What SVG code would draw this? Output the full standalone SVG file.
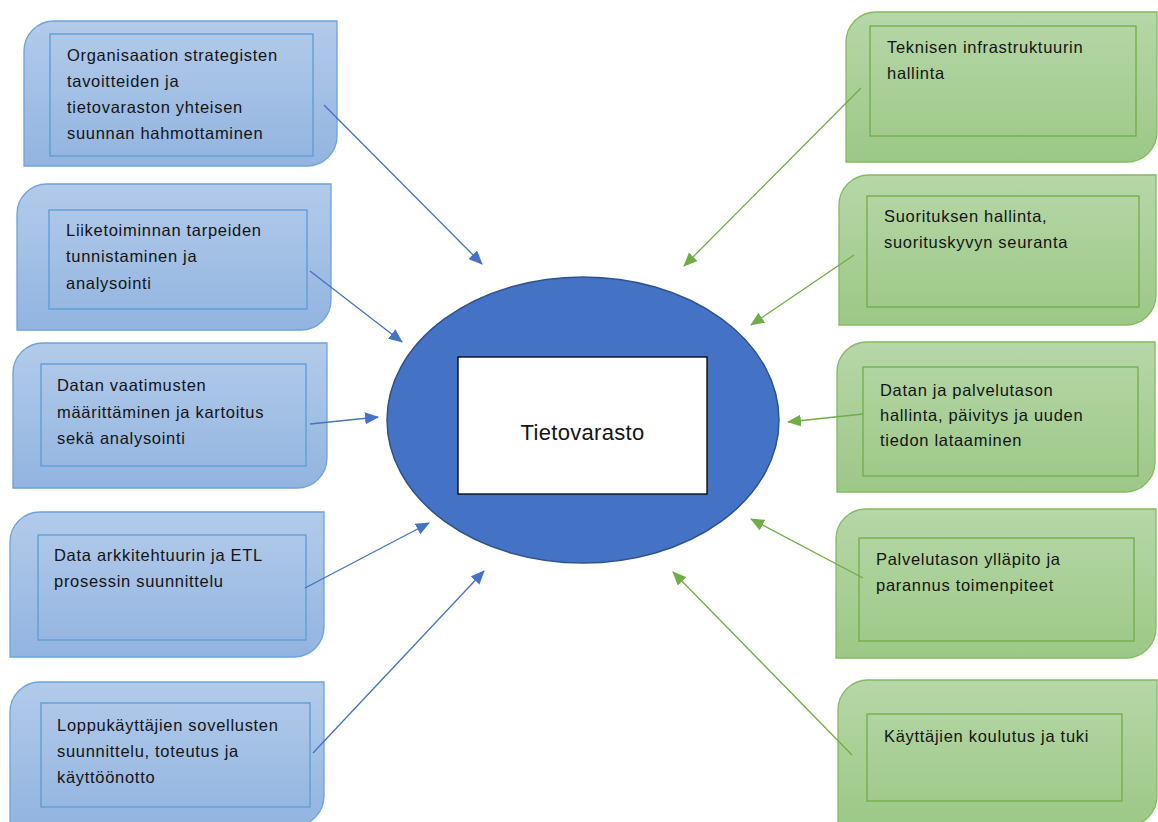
<svg xmlns="http://www.w3.org/2000/svg" width="1158" height="822" viewBox="0 0 1158 822">
<defs>
<linearGradient id="gb" x1="0" y1="0" x2="0" y2="1">
<stop offset="0" stop-color="#b3cbea"/>
<stop offset="1" stop-color="#92b4e0"/>
</linearGradient>
<linearGradient id="gg" x1="0" y1="0" x2="0" y2="1">
<stop offset="0" stop-color="#b6d7a8"/>
<stop offset="1" stop-color="#9cc886"/>
</linearGradient>
<marker id="ab" viewBox="0 0 14 12" refX="13" refY="6" markerWidth="14" markerHeight="12" markerUnits="userSpaceOnUse" orient="auto">
<path d="M0,0 L14,6 L0,12 Z" fill="#4472c4"/>
</marker>
<marker id="ag" viewBox="0 0 14 12" refX="13" refY="6" markerWidth="14" markerHeight="12" markerUnits="userSpaceOnUse" orient="auto">
<path d="M0,0 L14,6 L0,12 Z" fill="#70ad47"/>
</marker>
</defs>
<style>
.ob{fill:url(#gb);stroke:#6ea3dc;stroke-width:1.3}
.ib{fill:none;stroke:#5b9bd5;stroke-width:1.3}
.og{fill:url(#gg);stroke:#84bb60;stroke-width:1.3}
.ig{fill:none;stroke:#70ad47;stroke-width:1.3}
.t{font-family:"Liberation Sans",Arial,sans-serif;font-size:16.5px;fill:#141414;letter-spacing:0.7px}
.cb{stroke:#4472c4;stroke-width:1.3;fill:none;marker-end:url(#ab)}
.cg{stroke:#70ad47;stroke-width:1.3;fill:none;marker-end:url(#ag)}
</style>
<rect width="1158" height="822" fill="#ffffff"/>

<g id="center">
<ellipse cx="583" cy="420" rx="196" ry="143" fill="#4472c4" stroke="#2f528f" stroke-width="1.5"/>
<rect x="458" y="357" width="249" height="137" fill="#ffffff" stroke="#000000" stroke-width="1.3"/>
<text x="582.5" y="440" text-anchor="middle" font-family="'Liberation Sans',Arial,sans-serif" font-size="22px" letter-spacing="0.3" fill="#141414">Tietovarasto</text>
</g>

<g id="b1">
<path class="ob" d="M54,21 H337 V136 A30,30 0 0 1 307,166 H24 V51 A30,30 0 0 1 54,21 Z"/>
<rect class="ib" x="50" y="34" width="263" height="122"/>
<text class="t"><tspan x="67" y="61">Organisaation strategisten</tspan><tspan x="67" y="87">tavoitteiden ja</tspan><tspan x="67" y="113">tietovaraston yhteisen</tspan><tspan x="67" y="139">suunnan hahmottaminen</tspan></text>
</g>

<g id="b2">
<path class="ob" d="M47,184 H331 V300 A30,30 0 0 1 301,330 H17 V214 A30,30 0 0 1 47,184 Z"/>
<rect class="ib" x="49" y="210" width="258" height="99"/>
<text class="t"><tspan x="66" y="236">Liiketoiminnan tarpeiden</tspan><tspan x="66" y="262">tunnistaminen ja</tspan><tspan x="66" y="289">analysointi</tspan></text>
</g>

<g id="b3">
<path class="ob" d="M43,343 H327 V458 A30,30 0 0 1 297,488 H13 V373 A30,30 0 0 1 43,343 Z"/>
<rect class="ib" x="41" y="364" width="265" height="102"/>
<text class="t"><tspan x="57" y="391">Datan vaatimusten</tspan><tspan x="57" y="418">määrittäminen ja kartoitus</tspan><tspan x="57" y="444">sekä analysointi</tspan></text>
</g>

<g id="b4">
<path class="ob" d="M40,512 H324 V627 A30,30 0 0 1 294,657 H10 V542 A30,30 0 0 1 40,512 Z"/>
<rect class="ib" x="38" y="535" width="268" height="105"/>
<text class="t"><tspan x="54" y="561">Data arkkitehtuurin ja ETL</tspan><tspan x="54" y="587">prosessin suunnittelu</tspan></text>
</g>

<g id="b5">
<path class="ob" d="M40,682 H324 V796 A30,30 0 0 1 294,826 H10 V712 A30,30 0 0 1 40,682 Z"/>
<rect class="ib" x="41" y="703" width="269" height="104"/>
<text class="t"><tspan x="57" y="731">Loppukäyttäjien sovellusten</tspan><tspan x="57" y="757">suunnittelu, toteutus ja</tspan><tspan x="57" y="783">käyttöönotto</tspan></text>
</g>

<g id="g1">
<path class="og" d="M876,12 H1157 V132 A30,30 0 0 1 1127,162 H846 V42 A30,30 0 0 1 876,12 Z"/>
<rect class="ig" x="870" y="26" width="266" height="110"/>
<text class="t"><tspan x="887" y="53">Teknisen infrastruktuurin</tspan><tspan x="887" y="79">hallinta</tspan></text>
</g>

<g id="g2">
<path class="og" d="M869,175 H1156 V295 A30,30 0 0 1 1126,325 H839 V205 A30,30 0 0 1 869,175 Z"/>
<rect class="ig" x="867" y="196" width="272" height="111"/>
<text class="t"><tspan x="884" y="222">Suorituksen hallinta,</tspan><tspan x="884" y="248">suorituskyvyn seuranta</tspan></text>
</g>

<g id="g3">
<path class="og" d="M867,342 H1155 V462 A30,30 0 0 1 1125,492 H837 V372 A30,30 0 0 1 867,342 Z"/>
<rect class="ig" x="863" y="367" width="275" height="109"/>
<text class="t"><tspan x="880" y="396">Datan ja palvelutason</tspan><tspan x="880" y="421">hallinta, päivitys ja uuden</tspan><tspan x="880" y="446">tiedon lataaminen</tspan></text>
</g>

<g id="g4">
<path class="og" d="M866,509 H1156 V628 A30,30 0 0 1 1126,658 H836 V539 A30,30 0 0 1 866,509 Z"/>
<rect class="ig" x="859" y="538" width="275" height="103"/>
<text class="t"><tspan x="876" y="565">Palvelutason ylläpito ja</tspan><tspan x="876" y="591">parannus toimenpiteet</tspan></text>
</g>

<g id="g5">
<path class="og" d="M868,680 H1157 V796 A30,30 0 0 1 1127,826 H838 V710 A30,30 0 0 1 868,680 Z"/>
<rect class="ig" x="867" y="714" width="255" height="87"/>
<text class="t"><tspan x="884" y="742">Käyttäjien koulutus ja tuki</tspan></text>
</g>

<g id="connectors">
<line class="cb" x1="324" y1="105" x2="482" y2="264"/>
<line class="cb" x1="310" y1="271" x2="402" y2="342"/>
<line class="cb" x1="310" y1="424" x2="378" y2="417"/>
<line class="cb" x1="305" y1="588" x2="429" y2="523"/>
<line class="cb" x1="313" y1="753" x2="484" y2="571"/>
<line class="cg" x1="861" y1="88" x2="684" y2="266"/>
<line class="cg" x1="854" y1="255" x2="751" y2="325"/>
<line class="cg" x1="863" y1="414" x2="788" y2="422"/>
<line class="cg" x1="863" y1="578" x2="751" y2="519"/>
<line class="cg" x1="852" y1="755" x2="673" y2="572"/>
</g>
</svg>
